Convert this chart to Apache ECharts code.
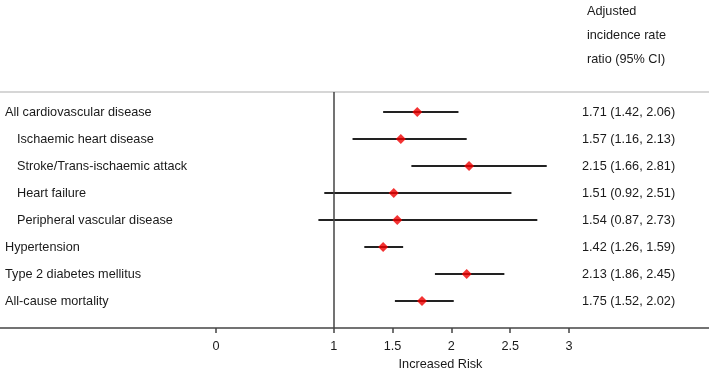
<!DOCTYPE html>
<html>
<head>
<meta charset="utf-8">
<script src="https://cdn.jsdelivr.net/npm/echarts@6/dist/echarts.min.js"></script>
<style>
  html, body { margin: 0; padding: 0; background: #fff; }
  #chart { width: 709px; height: 368px; }
</style>
</head>
<body>
<div id="chart"></div>
<script>
// outcome rows, top to bottom
const outcomes = [
  'All cardiovascular disease',
  'Ischaemic heart disease',
  'Stroke/Trans-ischaemic attack',
  'Heart failure',
  'Peripheral vascular disease',
  'Hypertension',
  'Type 2 diabetes mellitus',
  'All-cause mortality'
];
// sub-outcomes are indented under all CVD
const isSub = [false, true, true, true, true, false, false, false];
const irr = [1.71, 1.57, 2.15, 1.51, 1.54, 1.42, 2.13, 1.75];
const ciLow = [1.42, 1.16, 1.66, 0.92, 0.87, 1.26, 1.86, 1.52];
const ciHigh = [2.06, 2.13, 2.81, 2.51, 2.73, 1.59, 2.45, 2.02];
const xTicks = [0, 1, 1.5, 2, 2.5, 3];
const rowIdx = outcomes.map((_, i) => i);

const fontFamily = '"Liberation Sans", Arial, Helvetica, sans-serif';
const textColor = '#1a1a1a';
const fs = 12.7;

const chart = echarts.init(document.getElementById('chart'));

const xRange = { type: 'value', min: -216 / 117.7, max: (709 - 216) / 117.7 };
const yRange = { type: 'value', inverse: true, min: -20 / 27, max: 8 };

const option = {
  animation: false,
  textStyle: { fontFamily: fontFamily },
  title: {
    text: 'Adjusted\nincidence rate\nratio (95% CI)',
    left: 582,
    top: -6,
    textStyle: { fontSize: fs, fontWeight: 'normal', color: textColor, lineHeight: 24, fontFamily: fontFamily }
  },
  grid: { left: 0, right: 0, top: 92, bottom: 40, containLabel: false, outerBoundsMode: 'none' },
  xAxis: [Object.assign({}, xRange, {
    position: 'bottom',
    splitLine: { show: false },
    axisLine: { show: true, onZero: false, lineStyle: { color: '#444', width: 1.5 } },
    axisTick: { show: true, customValues: xTicks, length: 5, lineStyle: { color: '#444', width: 1.5 } },
    axisLabel: { customValues: xTicks, color: textColor, fontSize: fs, margin: 12 },
    name: 'Increased Risk',
    nameLocation: 'middle',
    nameGap: 24,
    nameTextStyle: { color: textColor, fontSize: fs, padding: [0, 0, 0, 172] }
  }), Object.assign({}, xRange, {
    // grey separator under the header
    position: 'top',
    splitLine: { show: false },
    axisLine: { show: true, onZero: false, lineStyle: { color: '#d6d6d6', width: 2 } },
    axisTick: { show: false },
    axisLabel: { show: false }
  })],
  yAxis: [Object.assign({}, yRange, {
    position: 'left',
    splitLine: { show: false },
    axisLine: { show: false, onZero: false },
    axisTick: { show: false },
    axisLabel: {
      inside: true,
      margin: 5,
      align: 'left',
      customValues: rowIdx,
      formatter: v => (isSub[v] ? '{sub|' : '{top|') + outcomes[v] + '}',
      rich: {
        top: { fontSize: fs, color: textColor, fontFamily: fontFamily },
        sub: { fontSize: fs, color: textColor, fontFamily: fontFamily, padding: [0, 0, 0, 12] }
      }
    }
  }), Object.assign({}, yRange, {
    position: 'right',
    splitLine: { show: false },
    axisLine: { show: false, onZero: false },
    axisTick: { show: false },
    axisLabel: {
      inside: true,
      margin: 127,
      align: 'left',
      color: textColor,
      fontSize: fs,
      customValues: rowIdx,
      formatter: v => irr[v].toFixed(2) + ' (' + ciLow[v].toFixed(2) + ', ' + ciHigh[v].toFixed(2) + ')'
    }
  })],
  series: [{
    type: 'custom',
    xAxisIndex: 0,
    yAxisIndex: 0,
    data: rowIdx.map(i => [ciLow[i], ciHigh[i], i]),
    encode: { x: [0, 1], y: 2 },
    renderItem: (params, api) => {
      const a = api.coord([api.value(0), api.value(2)]);
      const b = api.coord([api.value(1), api.value(2)]);
      return {
        type: 'line',
        shape: { x1: a[0], y1: a[1], x2: b[0], y2: b[1] },
        style: { stroke: '#222', lineWidth: 2 }
      };
    },
    markLine: {
      silent: true,
      symbol: 'none',
      label: { show: false },
      lineStyle: { color: '#444', width: 1.5, type: 'solid' },
      data: [{ xAxis: 1 }]
    },
    z: 2
  }, {
    type: 'scatter',
    xAxisIndex: 0,
    yAxisIndex: 0,
    symbol: 'diamond',
    symbolSize: 10,
    itemStyle: { color: '#f00000' },
    data: rowIdx.map(i => [irr[i], i]),
    z: 3
  }]
};

chart.setOption(option);
</script>
</body>
</html>
